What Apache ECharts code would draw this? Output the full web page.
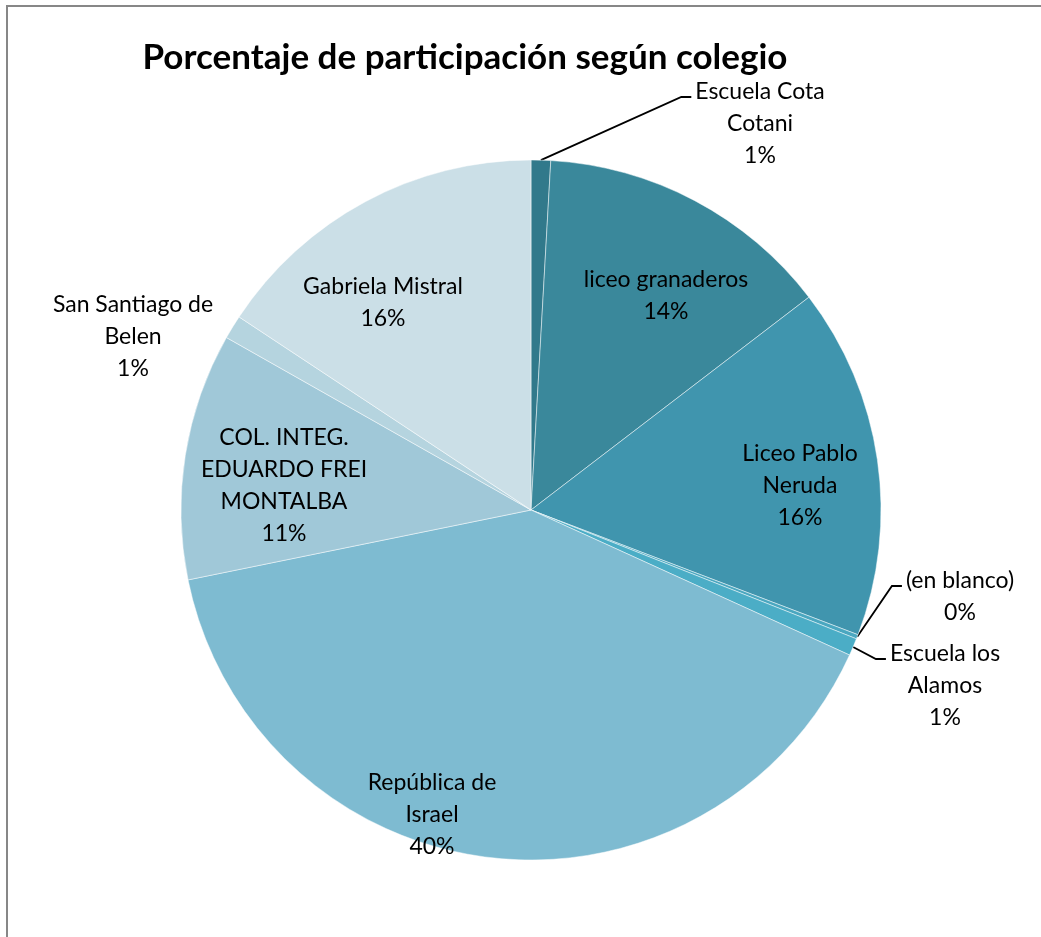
<!DOCTYPE html>
<html>
<head>
<meta charset="utf-8">
<script src="https://cdn.jsdelivr.net/npm/echarts@6/dist/echarts.min.js"></script>
<style>
  html, body { margin: 0; padding: 0; background: #fff; }
  #chart { width: 1041px; height: 937px; }
</style>
</head>
<body>
<div id="chart"></div>
<script>
// colegios, clockwise from 12 o'clock
const schools = ['Escuela Cota Cotani', 'liceo granaderos', 'Liceo Pablo Neruda', '(en blanco)',
  'Escuela los Alamos', 'República de Israel', 'COL. INTEG. EDUARDO FREI MONTALBA',
  'San Santiago de Belen', 'Gabriela Mistral']
// label text as wrapped in the original
const labelNames = ['Escuela Cota\nCotani', 'liceo granaderos', 'Liceo Pablo\nNeruda', '(en blanco)',
  'Escuela los\nAlamos', 'República de\nIsrael', 'COL. INTEG.\nEDUARDO FREI\nMONTALBA',
  'San Santiago de\nBelen', 'Gabriela Mistral']
const shares = [0.9, 13.7, 16.2, 0.2, 0.8, 40.0, 11.4, 1.1, 15.7]
const colors = ['#31798b', '#3a889b', '#4095ae', '#4aa7c0', '#4badc6', '#7ebbd1', '#a0c8d8', '#b5d4df', '#cbdfe7']

// where the labels sit (centre of the text block)
const labelPos = [[760, 124], [666, 296], [800, 486], [960, 597], [945, 686],
  [432, 815], [284, 486], [133, 337], [383, 303]]
const withLine = [true, false, false, true, true, false, false, false, false]
const LINE_H = 32

const chart = echarts.init(document.getElementById('chart'))

const option = {
  animation: false,
  title: {
    text: 'Porcentaje de participación según colegio',
    left: 460,
    top: 35,
    textAlign: 'center',
    textStyle: { fontFamily: 'Lato', fontWeight: 'bold', fontSize: 35, color: '#000' }
  },
  graphic: [{
    type: 'rect',
    shape: { x: 7, y: 6, width: 1200, height: 1200 },
    style: { fill: 'none', stroke: '#878787', lineWidth: 2 },
    silent: true
  }],
  series: [{
    type: 'pie',
    center: [531, 510],
    radius: 350,
    startAngle: 90,
    clockwise: true,
    avoidLabelOverlap: false,
    itemStyle: { borderColor: 'rgba(255,255,255,0.6)', borderWidth: 0.8 },
    label: {
      show: true,
      position: 'outside',
      color: '#000',
      fontFamily: 'Lato',
      fontSize: 23,
      lineHeight: LINE_H,
      align: 'center',
      formatter: p => labelNames[p.dataIndex] + '\n' + Math.round(p.percent) + '%'
    },
    labelLine: { show: true, length: 10, length2: 10, lineStyle: { color: '#000', width: 1.8 } },
    labelLayout: function (params) {
      const i = params.dataIndex
      const [x, y] = labelPos[i]
      const res = { x: x, y: y, align: 'center', verticalAlign: 'middle' }
      if (withLine[i] && params.labelLinePoints) {
        const left = x - params.labelRect.width / 2
        const ly = y - params.labelRect.height / 2 + LINE_H / 2 + 5
        res.labelLinePoints = [params.labelLinePoints[0], [left - 14, ly], [left - 4, ly]]
      }
      return res
    },
    data: schools.map((name, i) => ({
      name: name,
      value: shares[i],
      itemStyle: { color: colors[i] },
      labelLine: { show: withLine[i] }
    }))
  }]
}

chart.setOption(option)
</script>
</body>
</html>
